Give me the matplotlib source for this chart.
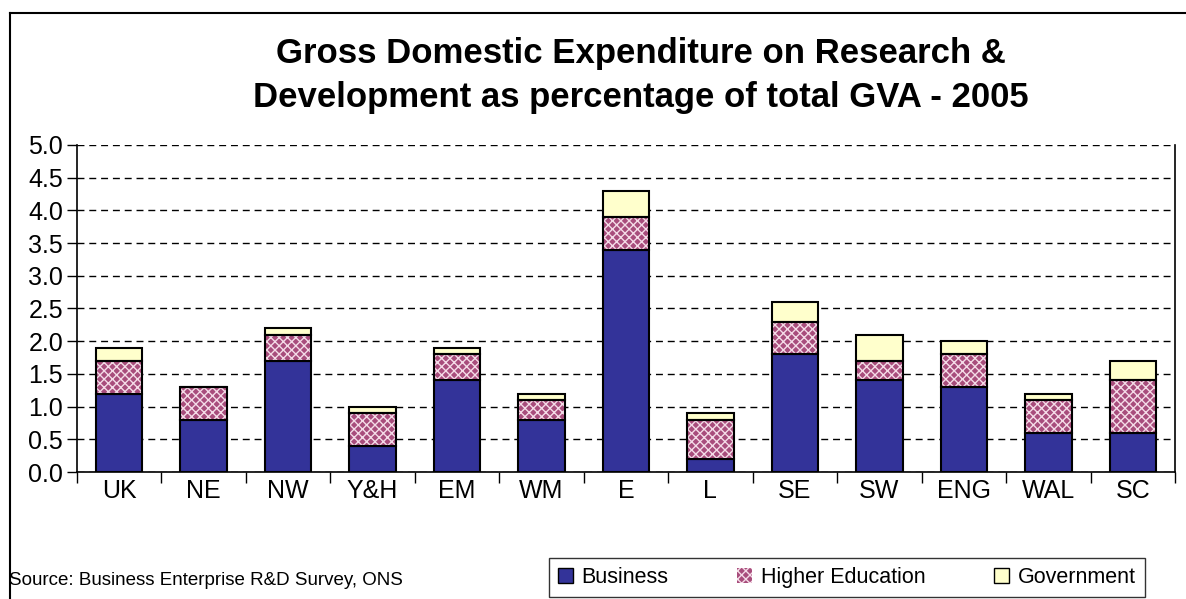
import matplotlib.pyplot as plt
import numpy as np
from matplotlib.lines import Line2D
from matplotlib.patches import Patch

plt.rcParams['font.family'] = ['Liberation Sans', 'DejaVu Sans']
plt.rcParams['hatch.linewidth'] = 1.0

regions = ["UK", "NE", "NW", "Y&H", "EM", "WM", "E", "L", "SE", "SW", "ENG", "WAL", "SC"]
business = [1.2, 0.8, 1.7, 0.4, 1.4, 0.8, 3.4, 0.2, 1.8, 1.4, 1.3, 0.6, 0.6]
higher_ed = [0.5, 0.5, 0.4, 0.5, 0.4, 0.3, 0.5, 0.6, 0.5, 0.3, 0.5, 0.5, 0.8]
government = [0.2, 0.0, 0.1, 0.1, 0.1, 0.1, 0.4, 0.1, 0.3, 0.4, 0.2, 0.1, 0.3]
yticks = [0.0, 0.5, 1.0, 1.5, 2.0, 2.5, 3.0, 3.5, 4.0, 4.5, 5.0]

c_bus = '#333399'
c_he = '#a84d7c'
c_gov = '#ffffcc'

fig = plt.figure(figsize=(11.86, 5.99), dpi=100)
ax = fig.add_axes([0.0649, 0.212, 0.9258, 0.546])

x = np.arange(len(regions))
w = 0.55
bus = np.array(business)
he = np.array(higher_ed)
gov = np.array(government)

ax.bar(x, bus, w, color=c_bus, edgecolor='black', lw=1.5, zorder=3)
# patterned segment: light hatch, black outline drawn on top
ax.bar(x, he, w, bottom=bus, color=c_he, edgecolor='#f4dbe7', hatch='xxxx', lw=0, zorder=3)
ax.bar(x, he, w, bottom=bus, color='none', edgecolor='black', lw=1.5, zorder=4)
ax.bar(x, gov, w, bottom=bus + he, color=c_gov, edgecolor='black', lw=1.5, zorder=3)

ax.set_xlim(-0.5, len(regions) - 0.5)
ax.set_ylim(0, 5.0)
ax.set_yticks(yticks)
ax.set_yticklabels(["%.1f" % v for v in yticks], fontsize=18)
ax.yaxis.grid(True, ls=(0, (5, 3.5)), color='black', lw=1.0, zorder=0)
ax.set_axisbelow(True)

ax.set_xticks(x)
ax.set_xticklabels(regions, fontsize=18)
ax.tick_params(axis='x', length=0, pad=5)
ax.set_xticks(np.arange(len(regions) + 1) - 0.5, minor=True)
ax.tick_params(axis='x', which='minor', length=8, width=1, direction='out')
ax.tick_params(axis='y', length=7, width=1, pad=3)

ax.spines['top'].set_visible(False)
for s in ['left', 'bottom', 'right']:
    ax.spines[s].set_linewidth(1.2)

fig.text(0.54, 0.910, "Gross Domestic Expenditure on Research &",
         ha='center', va='center', fontsize=25, fontweight='bold')
fig.text(0.54, 0.838, "Development as percentage of total GVA - 2005",
         ha='center', va='center', fontsize=25, fontweight='bold')

fig.text(0.008, 0.031, "Source: Business Enterprise R&D Survey, ONS", fontsize=13.5,
         ha='left', va='center')

handles = [
    Patch(facecolor=c_bus, edgecolor='black', lw=1),
    Patch(facecolor=c_he, edgecolor='#f4dbe7', hatch='xxxx', lw=0),
    Patch(facecolor=c_gov, edgecolor='black', lw=1),
]
leg = fig.legend(handles, ["Business", "Higher Education", "Government"],
                 loc='center', bbox_to_anchor=(0.714, 0.036), ncol=3, fontsize=15.5,
                 frameon=True, fancybox=False, edgecolor='black', handlelength=0.7,
                 handleheight=0.7, handletextpad=0.4, columnspacing=3.2,
                 borderpad=0.4, borderaxespad=0)
leg.get_frame().set_linewidth(1.0)

# outer frame (top and left edges)
fig.add_artist(Line2D([10 / 1186, 1.0], [1 - 13 / 599, 1 - 13 / 599], color='black', lw=1.5,
                      transform=fig.transFigure))
fig.add_artist(Line2D([10 / 1186, 10 / 1186], [0.0, 1 - 13 / 599], color='black', lw=1.5,
                      transform=fig.transFigure))

fig.savefig("out.png", dpi=100)
